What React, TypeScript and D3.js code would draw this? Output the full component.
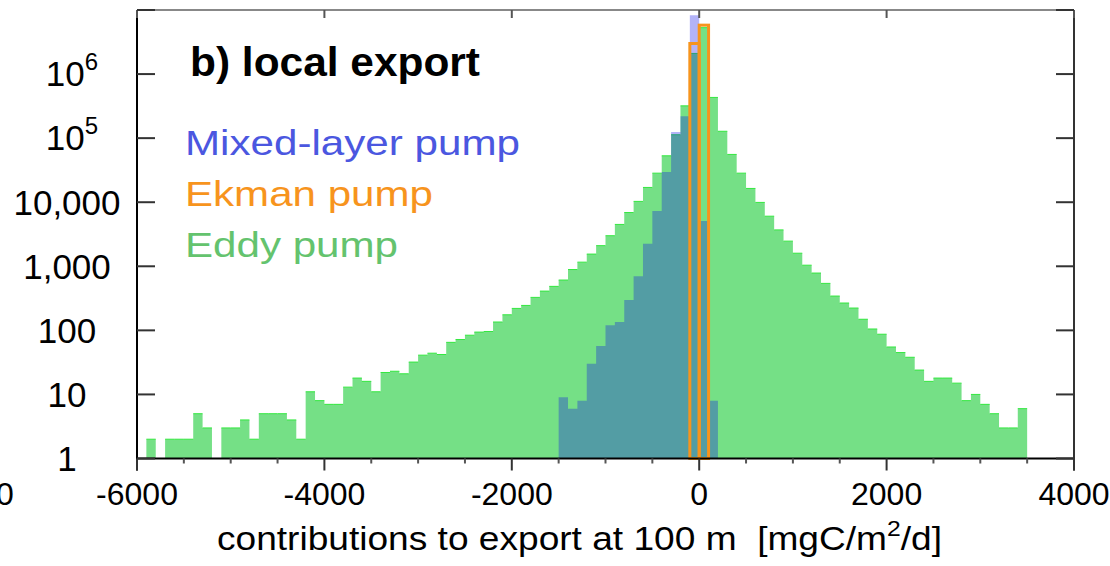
import React from "react";
import * as d3 from "d3";

// Histogram bins: 100-wide bins, left edges from -6000 to 3900
const eddyBinStart = -6000;
const binWidth = 100;
const eddyCounts = [
  1, 2, 0, 2, 2, 2, 5, 3, 0, 3,
  3, 4, 2, 5, 5, 5, 4, 2, 11, 8,
  7, 7, 13, 18, 16, 11, 22, 23, 21, 32,
  41, 44, 42, 65, 72, 84, 94, 96, 135, 175,
  220, 245, 327, 410, 486, 610, 890, 1160, 1550, 2100,
  3000, 4500, 6900, 10300, 17000, 28400, 53000, 113000, 319000, 2100000,
  5300000, 432000, 128000, 55700, 28400, 16400, 9930, 6050, 3700, 2470,
  1600, 1040, 784, 541, 343, 267, 223, 149, 105, 87,
  55, 45, 38, 24, 16, 18, 18, 15, 8, 10,
  7, 5, 3, 3, 6, 0, 1, 1, 0, 0,
];

const mixedBinStart = -1500;
const mixedCounts = [9, 6, 8, 30, 57, 120, 135, 297, 700, 2240, 7300, 29500, 125000, 220000, 8300000, 5100, 8];

const ekmanBinStart = -100;
const ekmanCounts = [3000000, 5800000, 1];

const xTickValues = [-6000, -4000, -2000, 0, 2000, 4000];
const xTickLabels = ["-6000", "-4000", "-2000", "0", "2000", "4000"];
const yTickValues = [1, 10, 100, 1000, 10000, 100000, 1000000];
const yTickLabels = ["1", "10", "100", "1,000", "10,000", "10|5", "10|6"];

const legendNames = ["Mixed-layer pump", "Ekman pump", "Eddy pump"];
const legendColors = ["#4b57e0", "#f7941d", "#64c36e"];
const legendWidths = [335, 248, 213];

const FONT = "'Liberation Sans', Arial, Helvetica, sans-serif";

export default function App() {
  const W = 1110;
  const H = 566;
  const x = d3.scaleLinear().domain([-6000, 4000]).range([137, 1074]);
  const y = d3.scaleLog().domain([1, 1e7]).range([458.5, 10]);
  const y0 = y(1);

  const makeBins = (start: number, counts: number[]) =>
    counts.map((c, i) => ({ x0: start + i * binWidth, x1: start + (i + 1) * binWidth, v: c }));

  const eddy = makeBins(eddyBinStart, eddyCounts);
  const mixed = makeBins(mixedBinStart, mixedCounts);
  const ekman = makeBins(ekmanBinStart, ekmanCounts).filter((b) => b.v > 0);

  // one continuous step polygon per series (no seams between bars)
  const stepPath = (bins: { x0: number; x1: number; v: number }[]) => {
    const p = d3.path();
    p.moveTo(x(bins[0].x0), y0);
    bins.forEach((b) => {
      const yy = b.v > 0 ? y(b.v) : y0;
      p.lineTo(x(b.x0), yy);
      p.lineTo(x(b.x1), yy);
    });
    p.lineTo(x(bins[bins.length - 1].x1), y0);
    p.closePath();
    return p.toString();
  };

  const topLines = (bins: { x0: number; x1: number; v: number }[]) => {
    const p = d3.path();
    bins.filter((b) => b.v > 0).forEach((b) => {
      p.moveTo(x(b.x0), y(b.v));
      p.lineTo(x(b.x1), y(b.v));
    });
    return p.toString();
  };

  const minorTicks = d3.range(-6000, 4001, 500);
  const decadeTicks = [1, 10, 100, 1000, 1e4, 1e5, 1e6, 1e7];

  return (
    <svg
      width={W}
      height={H}
      style={{ position: "absolute", left: 0, top: 0, background: "#fff" }}
      fontFamily={FONT}
    >
      <rect x={0} y={0} width={W} height={H} fill="#fff" />
      {/* Eddy pump (green) */}
      <path d={stepPath(eddy)} fill="#75e086" />
      <path d={topLines(eddy)} fill="none" stroke="#33e83f" strokeWidth={1} />
      {/* Mixed-layer pump (blue, translucent) */}
      <path d={stepPath(mixed)} fill="#0a0ae8" fillOpacity={0.31} />
      {/* Ekman pump (orange outline) */}
      <g>
        {ekman.map((b, i) => (
          <rect
            key={"k" + i}
            x={x(b.x0)}
            y={y(b.v)}
            width={x(b.x1) - x(b.x0)}
            height={Math.max(0, y0 - y(b.v))}
            fill="none"
            stroke="#f7941d"
            strokeWidth={3}
          />
        ))}
      </g>

      {/* Frame */}
      <line x1={137} x2={1074} y1={10} y2={10} stroke="#888" strokeWidth={2} />
      <line x1={137} x2={1074} y1={y0} y2={y0} stroke="#000" strokeWidth={2} />
      <line x1={137} x2={137} y1={10} y2={y0 + 12} stroke="#000" strokeWidth={2} />
      <line x1={1074} x2={1074} y1={10} y2={y0 + 12} stroke="#333" strokeWidth={2} />

      {/* x ticks */}
      {minorTicks.map((t) => {
        const major = t % 2000 === 0;
        return (
          <g key={"xt" + t}>
            <line x1={x(t)} x2={x(t)} y1={y0} y2={y0 + (major ? 12 : 5)} stroke={major ? "#333" : "#555"} strokeWidth={2} />
            {major && <line x1={x(t)} x2={x(t)} y1={10} y2={18} stroke="#555" strokeWidth={2} />}
          </g>
        );
      })}
      {/* y ticks */}
      {decadeTicks.map((v) => (
        <g key={"yt" + v}>
          <line x1={137} x2={155} y1={y(v)} y2={y(v)} stroke="#333" strokeWidth={2} />
          <line x1={1056} x2={1074} y1={y(v)} y2={y(v)} stroke="#333" strokeWidth={2} />
        </g>
      ))}

      {/* x tick labels */}
      {xTickValues.map((t, i) => (
        <text key={"xl" + t} x={x(t)} y={505} fontSize={32} textAnchor="middle" fill="#000">
          {xTickLabels[i]}
        </text>
      ))}
      <text x={-4} y={505} fontSize={32} fill="#000">0</text>

      {/* y tick labels */}
      {yTickValues.map((v, i) => {
        const lab = yTickLabels[i];
        if (lab.includes("|")) {
          const [base, exp] = lab.split("|");
          return (
            <text key={"yl" + v} x={72} y={y(v) + 12} fontSize={35} textAnchor="middle" fill="#000">
              {base}
              <tspan fontSize={24} dy={-16}>{exp}</tspan>
            </text>
          );
        }
        return (
          <text key={"yl" + v} x={67} y={y(v) + 12.5} fontSize={35} textAnchor="middle" fill="#000">
            {lab}
          </text>
        );
      })}

      {/* Title */}
      <text x={190} y={76} fontSize={41} fontWeight="bold" fill="#000" textLength={290} lengthAdjust="spacingAndGlyphs">
        b) local export
      </text>

      {/* Legend */}
      {legendNames.map((n, i) => (
        <text
          key={n}
          x={185}
          y={155 + i * 51}
          fontSize={35}
          fill={legendColors[i]}
          textLength={legendWidths[i]}
          lengthAdjust="spacingAndGlyphs"
        >
          {n}
        </text>
      ))}

      {/* x axis title */}
      <text x={217} y={550} fontSize={33} fill="#000" textLength={725} lengthAdjust="spacingAndGlyphs">
        contributions to export at 100 m{"\u00a0\u00a0"}[mgC/m
        <tspan fontSize={22} dy={-14}>2</tspan>
        <tspan dy={14}>/d]</tspan>
      </text>
    </svg>
  );
}
